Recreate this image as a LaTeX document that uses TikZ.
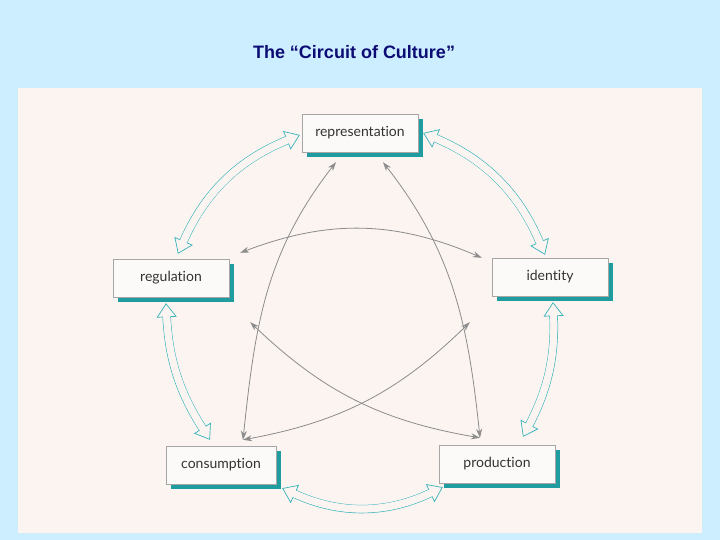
\documentclass[tikz,border=0pt]{standalone}
\usepackage{fontspec}
\setmainfont{Lato}[Ligatures={NoCommon,NoContextual}, Contextuals=NoAlternate]
\newfontfamily\titlefont{Liberation Sans}
\usetikzlibrary{arrows.meta,positioning,calc,shadows}
\definecolor{slidebg}{HTML}{CCEEFF}
\definecolor{pagebg}{HTML}{FBF4F1}
\definecolor{titleblue}{HTML}{0C0C74}
\definecolor{cyanline}{HTML}{36B4BA}
\definecolor{shadowteal}{HTML}{1E9CA0}
\definecolor{boxfill}{HTML}{FCFAF8}
\definecolor{linkgray}{HTML}{8C8C8C}

\begin{document}
\begin{tikzpicture}[x=1pt, y=1pt,
  box/.style={draw=gray!70, fill=boxfill, minimum width=116pt, minimum height=38pt, font=\fontsize{14}{16}\selectfont, text=black!80,
    general shadow={fill=shadowteal, shadow xshift=5pt, shadow yshift=-5pt}},
  hollow/.style={draw=cyanline, line width=0.7pt, double=pagebg, double distance=7pt,
    {Triangle[open, length=14pt, width=20pt, line width=0.7pt]}-{Triangle[open, length=14pt, width=20pt, line width=0.7pt]}},
  cover/.style={draw=pagebg, line width=7pt, shorten <=12pt, shorten >=12pt},
  link/.style={draw=linkgray, line width=0.8pt, {Stealth[length=9pt, width=6pt]}-{Stealth[length=9pt, width=6pt]}}
]

% slide and scanned page
\fill[slidebg] (0,0) rectangle (720,540);
\useasboundingbox (0,0) rectangle (720,540);
\fill[pagebg] (18,7) rectangle (702,452);

\node[font=\titlefont\bfseries\fontsize{18}{20}\selectfont, text=titleblue] (title) at (354,488) {The “Circuit of Culture”};

% the five moments
\node[box] (rep) at (360,407) {representation};
\node[box] (id) at (550,263) {identity};
\node[box] (prod) at (497,76) {production};
\node[box, minimum width=110pt] (cons) at (221,75) {consumption};
\node[box] (reg) at (171,262) {regulation};

% end points of the outer arrows
\coordinate (rep-e) at ([xshift=5pt]rep.east);
\coordinate (rep-w) at ([shift={(-2,-2)}]rep.west);
\coordinate (id-n) at ([shift={(-5,3)}]id.north);
\coordinate (id-s) at ([shift={(3,-6)}]id.south);
\coordinate (prod-n) at ([shift={(26,8)}]prod.north);
\coordinate (prod-sw) at ([shift={(4,-4)}]prod.south west);
\coordinate (cons-se) at ([shift={(6,-4)}]cons.south east);
\coordinate (cons-n) at ([shift={(-11,6)}]cons.north);
\coordinate (reg-s) at ([shift={(-5,-6)}]reg.south);
\coordinate (reg-n) at ([shift={(7,5)}]reg.north);

% outer circuit
\foreach \a/\b/\ang in {rep-e/id-n/22, id-s/prod-n/15, prod-sw/cons-se/25, cons-n/reg-s/15, reg-n/rep-w/22}{
  \draw[hollow] (\a) to[bend left=\ang] (\b);
  \draw[cover] (\a) to[bend left=\ang] (\b);
}

% end points of the inner links
\coordinate (rep-l) at ([shift={(-24,-10)}]rep.south);
\coordinate (rep-r) at ([shift={(23,-10)}]rep.south);
\coordinate (cons-t) at ([shift={(22,6)}]cons.north);
\coordinate (prod-t) at ([shift={(-17,7)}]prod.north);
\coordinate (reg-a) at ([shift={(11,6)}]reg.north east);
\coordinate (reg-b) at ([shift={(21,-25)}]reg.south east);
\coordinate (id-a) at ([shift={(-10,0)}]id.north west);
\coordinate (id-b) at ([shift={(-22,-26)}]id.south west);

% inner star
\draw[link] (rep-l) to[out=232, in=84] (cons-t);
\draw[link] (rep-r) to[out=308, in=96] (prod-t);
\draw[link] (reg-a) to[bend left=22] (id-a);
\draw[link] (reg-b) to[bend right=17] (prod-t);
\draw[link] (id-b) to[bend left=17] (cons-t);

\end{tikzpicture}
\end{document}
